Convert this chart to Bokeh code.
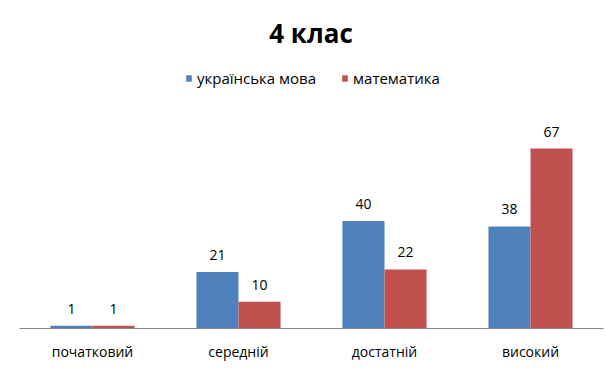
from bokeh.plotting import figure
from bokeh.models import ColumnDataSource, Legend, LegendItem, Label, FactorRange, Range1d
from bokeh.transform import dodge
from bokeh.core.properties import value
from bokeh.embed import file_html
from bokeh.resources import INLINE

categories = ["початковий", "середній", "достатній", "високий"]
ukr = [1, 21, 40, 38]
math = [1, 10, 22, 67]
series_names = ["українська мова", "математика"]
title_text = "4 клас"

FONT = "Open Sans"
BLUE = "#4F81BD"
RED = "#C0504D"

src = ColumnDataSource(dict(cat=categories, ukr=ukr, math=math,
                            ukr_t=[str(v) for v in ukr], math_t=[str(v) for v in math]))

p = figure(width=604, height=372, output_backend="svg", toolbar_location=None,
           x_range=FactorRange(*categories, range_padding=0),
           y_range=Range1d(0, 115.4),
           min_border_left=19, min_border_right=1, min_border_top=18, min_border_bottom=44)
p.outline_line_color = None
p.grid.visible = False
p.yaxis.visible = False

bw = 0.288
r1 = p.vbar(x=dodge("cat", -0.144, range=p.x_range), top="ukr", width=bw, source=src,
            fill_color=BLUE, line_color=None)
r2 = p.vbar(x=dodge("cat", 0.144, range=p.x_range), top="math", width=bw, source=src,
            fill_color=RED, line_color=None)

p.text(x=dodge("cat", -0.144, range=p.x_range), y="ukr", text="ukr_t", source=src,
       text_font=value(FONT), text_font_size="14px", text_color="#000000",
       text_align="center", text_baseline="middle", y_offset=-17)
p.text(x=dodge("cat", 0.144, range=p.x_range), y="math", text="math_t", source=src,
       text_font=value(FONT), text_font_size="14px", text_color="#000000",
       text_align="center", text_baseline="middle", y_offset=-17)

xa = p.xaxis[0]
xa.axis_line_color = "#868686"
xa.axis_line_width = 1
xa.major_tick_line_color = None
xa.minor_tick_line_color = None
xa.major_label_text_font = FONT
xa.major_label_text_font_size = "14px"
xa.major_label_text_color = "#000000"
xa.major_label_standoff = 7

p.add_layout(Label(x=291.5, y=296, x_units="screen", y_units="screen", text=title_text,
                   text_font=FONT, text_font_size="26px", text_font_style="bold",
                   text_color="#000000", text_align="center", text_baseline="middle"))

legend = Legend(items=[LegendItem(label=series_names[0], renderers=[r1]),
                       LegendItem(label=series_names[1], renderers=[r2])],
                orientation="horizontal", location=(166, 240),
                glyph_width=7, glyph_height=8, label_height=8, label_width=10,
                label_standoff=5, spacing=25, padding=0, margin=0,
                border_line_color=None, background_fill_alpha=0,
                label_text_font=FONT, label_text_font_size="15px", label_text_color="#000000")
p.add_layout(legend, "center")

open("out.html", "w").write(file_html(p, INLINE))
